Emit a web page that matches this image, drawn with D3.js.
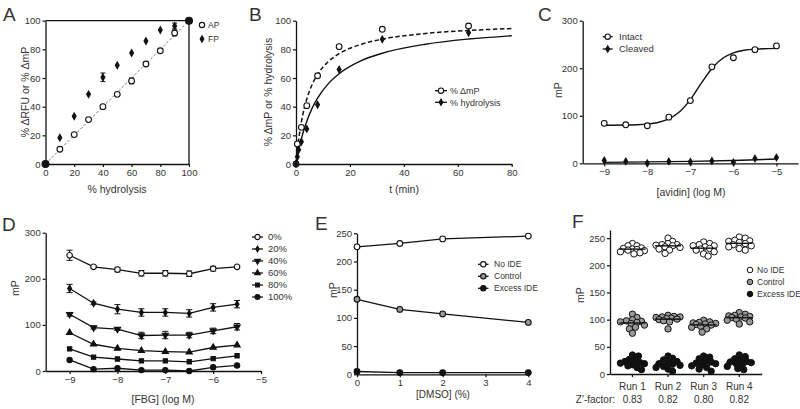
<!DOCTYPE html>
<html><head><meta charset="utf-8">
<script src="https://cdn.jsdelivr.net/npm/d3@7"></script>
<style>
body{margin:0;background:#fff}
svg{display:block}
text{font-family:"Liberation Sans",Arial,Helvetica,sans-serif;fill:#333}
</style>
</head><body>
<svg width="800" height="409"></svg>
<script>
// ---------------- DATA ----------------
// Panel A
const aX      = [10,20,30,40,50,60,70,80,90];
const aAP     = [10.3,20.5,31,40,48.6,58,69.8,79,91.4];
const aAPerr  = [0,0,0,0,0,2,0,0,2];
const aFP     = [18.4,33.3,48.6,60.5,68.9,77.5,85.8,93.5,96.3];
const aFPerr  = [0,0,0,3,0,0,0,0,2];
const aEndX   = [0,100];
const aEndY   = [0,100];
const aTicks  = [0,20,40,60,80,100];

// Panel B
const bT      = [0,0.5,2,4,8,16,32,64];
const bMP     = [0,14,25.6,40.7,61.6,81.9,94,96.3];
const bHydT   = [0,0.5,1,2,4,8,16,32,64];
const bHyd    = [0,5,10,15.5,24.5,41.4,66,87,91.6];
const bFitT   = [0,0.5,1,2,3,4,6,8,12,16,24,32,48,64,80];
const bFitMP  = [0,9.4,17.2,29.4,38.4,45.4,55.6,62.5,71.5,77,83.4,87.1,91.1,93.2,94.5];
const bFitHyd = [0,5.1,9.6,17.5,24.2,29.9,39,46,56.1,63,71.9,77.3,83.6,87.2,89.5];
const bXTicks = [0,20,40,60,80];
const bYTicks = [0,20,40,60,80,100];

// Panel C
const cX        = [-9,-8.5,-8,-7.5,-7,-6.5,-6,-5.5,-5];
const cIntact   = [84,81,79,97,132,203,222,239,247];
const cCleaved  = [6,4,0,4,3,5,2,10,12];
const cFitX     = [-9,-8.5,-8.25,-8,-7.75,-7.5,-7.25,-7,-6.75,-6.5,-6.25,-6,-5.75,-5.5,-5];
const cFitIntact= [80.1,80.5,81.1,82.5,85.9,93.3,108.3,134,168,199.6,220.9,232.4,237.8,240.2,241.7];
const cFitClvX  = [-9,-8,-7,-6,-5];
const cFitClv   = [2,3,4,6,9];
const cXTicks   = [-9,-8,-7,-6,-5];
const cYTicks   = [0,100,200,300];

// Panel D
const dX = [-9,-8.5,-8,-7.5,-7,-6.5,-6,-5.5];
const dLabels = ["0%","20%","40%","60%","80%","100%"];
const d0   = [251,226,220,212,212,211,222,226];
const d20  = [179,147,134,127,127,125,138,145];
const d40  = [123,94,91,77,78,78,87,96];
const d60  = [83,58,49,44,42,41,51,56];
const d80  = [48,30,26,22,22,20,27,33];
const d100 = [24,4,6,2,2,0,8,12];
const d0err   = [11,3,5,6,6,6,5,3];
const d20err  = [9,3,10,8,8,8,8,8];
const d40err  = [4,3,3,7,8,6,6,7];
const d60err  = [2,2,2,2,2,2,2,2];
const d80err  = [2,2,2,2,2,2,2,2];
const d100err = [2,2,2,2,2,2,2,2];
const dXTicks = [-9,-8,-7,-6,-5];
const dYTicks = [0,100,200,300];

// Panel E
const eX        = [0,1,2,4];
const eNoIDE    = [226,232,240,245];
const eControl  = [133,115,107,92];
const eExcess   = [5,3,3,3];
const eLabels   = ["No IDE","Control","Excess IDE"];
const eXTicks   = [0,1,2,3,4];
const eYTicks   = [0,50,100,150,200,250];

// Panel F
const fRuns  = ["Run 1","Run 2","Run 3","Run 4"];
const fZ     = ["0.83","0.82","0.80","0.82"];
const fNoIDE = [
  [240,236,232,230,229,228,227,225,223,221,236,231],
  [250,244,240,238,237,236,234,233,230,228,222,238],
  [243,240,238,236,234,231,230,228,225,221,217,236],
  [252,250,246,244,242,240,238,236,234,231,228,245]];
const fControl = [
  [110,104,100,98,97,96,95,93,90,86,83,75],
  [108,106,105,104,103,102,101,100,98,96,83,105],
  [99,96,94,93,92,91,90,88,86,83,77,95],
  [113,110,108,107,106,105,104,103,101,99,96,92]];
const fExcess = [
  [35,33,27,25,23,21,20,19,17,15,12,8],
  [33,29,26,23,21,19,18,16,14,12,9,5],
  [33,31,28,24,22,20,19,17,15,12,9,5],
  [35,32,28,25,23,22,21,19,17,14,10,8]];
const fYTicks = [0,50,100,150,200,250];

// ---------------- HELPERS ----------------
const svg = d3.select("svg");
const TICKF = "9.5px";
const fmtInt = d3.format("d");

function styleAxis(g){
  g.select(".domain").attr("stroke","#111").attr("stroke-width",1.3);
  g.selectAll(".tick line").attr("stroke","#111").attr("stroke-width",1.2);
  g.selectAll(".tick text").attr("font-size",TICKF).attr("fill","#444")
   .attr("font-family",'"Liberation Sans",Arial,sans-serif');
}
function xAxis(g, sc, y, ticks, fmt){
  const a = d3.axisBottom(sc).tickValues(ticks).tickSize(3).tickPadding(2).tickSizeOuter(0);
  if (fmt) a.tickFormat(fmt);
  const gg = g.append("g").attr("transform",`translate(0,${y})`).call(a);
  styleAxis(gg); return gg;
}
function yAxis(g, sc, x, ticks){
  const gg = g.append("g").attr("transform",`translate(${x},0)`)
    .call(d3.axisLeft(sc).tickValues(ticks).tickFormat(fmtInt).tickSize(3).tickPadding(2).tickSizeOuter(0));
  styleAxis(gg); return gg;
}
function title(g, txt, x, y, rot, size){
  const t = g.append("text").attr("x",x).attr("y",y).attr("text-anchor","middle")
    .attr("font-size",size||"10.5px").attr("fill","#333").text(txt);
  if (rot) t.attr("transform",`rotate(-90,${x},${y})`).attr("dy","0.35em");
  return t;
}
function letter(txt,x,y){
  svg.append("text").attr("x",x).attr("y",y).attr("font-size","19px").attr("fill","#111").text(txt);
}
const SYM = {
  circle: d3.symbolCircle, diamond: d3.symbolDiamond, triUp: d3.symbolTriangle,
  triDown: d3.symbolTriangle, square: d3.symbolSquare
};
function mark(g, type, x, y, fill, size, stroke){
  const p = g.append("path").attr("d", d3.symbol().type(SYM[type]).size(size)())
    .attr("fill", fill).attr("stroke", stroke||"#111").attr("stroke-width",1.1);
  p.attr("transform", `translate(${x},${y})` + (type==="triDown" ? " rotate(180)" : ""));
  return p;
}
function errbar(g, x, y0, y1, w){
  g.append("line").attr("x1",x).attr("x2",x).attr("y1",y0).attr("y2",y1).attr("stroke","#111").attr("stroke-width",1);
  g.append("line").attr("x1",x-w).attr("x2",x+w).attr("y1",y0).attr("y2",y0).attr("stroke","#111").attr("stroke-width",1);
  g.append("line").attr("x1",x-w).attr("x2",x+w).attr("y1",y1).attr("y2",y1).attr("stroke","#111").attr("stroke-width",1);
}

// ---------------- PANEL A ----------------
{
  const g = svg.append("g");
  const x = d3.scaleLinear().domain([0,100]).range([45.5,189]);
  const y = d3.scaleLinear().domain([0,100]).range([164,20.7]);
  g.append("line").attr("x1",x(0)).attr("y1",y(0)).attr("x2",x(100)).attr("y2",y(100))
    .attr("stroke","#777").attr("stroke-width",1).attr("stroke-dasharray","2.5,2");
  g.append("line").attr("x1",x(0)).attr("x2",x(100)).attr("y1",y(100)).attr("y2",y(100)).attr("stroke","#111").attr("stroke-width",1.3);
  g.append("line").attr("x1",x(100)).attr("x2",x(100)).attr("y1",y(0)).attr("y2",y(100)).attr("stroke","#111").attr("stroke-width",1.3);
  xAxis(g, x, 164, aTicks, fmtInt);
  yAxis(g, y, 45.5, aTicks);
  aX.forEach((v,i)=>{
    if (aAPerr[i]) errbar(g, x(v), y(aAP[i]-aAPerr[i]), y(aAP[i]+aAPerr[i]), 2.5);
    mark(g,"circle",x(v),y(aAP[i]),"#fff",26);
  });
  aX.forEach((v,i)=>{
    if (aFPerr[i]) errbar(g, x(v), y(aFP[i]-aFPerr[i]), y(aFP[i]+aFPerr[i]), 2.5);
    mark(g,"diamond",x(v),y(aFP[i]),"#111",13);
  });
  aEndX.forEach((v,i)=> mark(g,"circle",x(v),y(aEndY[i]),"#111",38));
  mark(g,"circle",202,25,"#fff",22);
  g.append("text").attr("x",208).attr("y",28).attr("font-size","8.5px").text("AP");
  mark(g,"diamond",202,39,"#111",12);
  g.append("text").attr("x",208).attr("y",42).attr("font-size","8.5px").text("FP");
  title(g,"% hydrolysis",117,193);
  title(g,"% \u0394RFU or % \u0394mP",25,92,true);
  letter("A",3,21);
}

// ---------------- PANEL B ----------------
{
  const g = svg.append("g");
  const x = d3.scaleLinear().domain([0,80]).range([296,511.7]);
  const y = d3.scaleLinear().domain([0,100]).range([164,20.7]);
  const line = d3.line().x(d=>x(d[0])).y(d=>y(d[1])).curve(d3.curveMonotoneX);
  g.append("path").attr("d", line(bFitT.map((t,i)=>[t,bFitMP[i]])))
    .attr("fill","none").attr("stroke","#111").attr("stroke-width",1.5).attr("stroke-dasharray","4.5,2.5");
  g.append("path").attr("d", line(bFitT.map((t,i)=>[t,bFitHyd[i]])))
    .attr("fill","none").attr("stroke","#111").attr("stroke-width",1.4);
  xAxis(g, x, 164, bXTicks, fmtInt);
  yAxis(g, y, 296, bYTicks);
  bT.forEach((t,i)=> mark(g,"circle",x(t),y(bMP[i]),"#fff",26));
  bHydT.forEach((t,i)=> mark(g,"diamond",x(t),y(bHyd[i]),"#111",13));
  [[90.7,"circle","#fff","% \u0394mP"],[102.3,"diamond","#111","% hydrolysis"]].forEach(([ly,tp,fc,lab])=>{
    g.append("line").attr("x1",435).attr("x2",447).attr("y1",ly).attr("y2",ly).attr("stroke","#111").attr("stroke-width",1.3);
    mark(g,tp,441,ly,fc,tp==="circle"?22:12);
    g.append("text").attr("x",450).attr("y",ly+3.3).attr("font-size","9px").text(lab);
  });
  title(g,"t (min)",404,193);
  title(g,"% \u0394mP or % hydrolysis",268,92,true);
  letter("B",249,21);
}

// ---------------- PANEL C ----------------
{
  const g = svg.append("g");
  const x = d3.scaleLinear().domain([-9.5,-4.5]).range([582.7,798]);
  const y = d3.scaleLinear().domain([0,300]).range([163.3,20.7]);
  const line = d3.line().x(d=>x(d[0])).y(d=>y(d[1])).curve(d3.curveMonotoneX);
  g.append("path").attr("d", line(cFitX.map((v,i)=>[v,cFitIntact[i]])))
    .attr("fill","none").attr("stroke","#111").attr("stroke-width",1.4);
  g.append("path").attr("d", line(cFitClvX.map((v,i)=>[v,cFitClv[i]])))
    .attr("fill","none").attr("stroke","#111").attr("stroke-width",1.4);
  xAxis(g, x, 163.3, cXTicks, fmtInt);
  yAxis(g, y, 582.7, cYTicks);
  cX.forEach((v,i)=> mark(g,"circle",x(v),y(cIntact[i]),"#fff",26));
  cX.forEach((v,i)=> mark(g,"diamond",x(v),y(cCleaved[i]),"#111",13));
  [[36.7,"circle","#fff","Intact"],[49,"diamond","#111","Cleaved"]].forEach(([ly,tp,fc,lab])=>{
    g.append("line").attr("x1",602.7).attr("x2",612.7).attr("y1",ly).attr("y2",ly).attr("stroke","#111").attr("stroke-width",1.3);
    mark(g,tp,607.7,ly,fc,tp==="circle"?22:12);
    g.append("text").attr("x",619).attr("y",ly+3.4).attr("font-size","9.5px").text(lab);
  });
  title(g,"[avidin] (log M)",691,196);
  title(g,"mP",558,90,true);
  letter("C",538,21);
}

// ---------------- PANEL D ----------------
{
  const g = svg.append("g");
  const x = d3.scaleLinear().domain([-9.5,-5]).range([45.7,261]);
  const y = d3.scaleLinear().domain([0,300]).range([371,232.7]);
  const series = [d0,d20,d40,d60,d80,d100];
  const errs = [d0err,d20err,d40err,d60err,d80err,d100err];
  const types = ["circle","diamond","triDown","triUp","square","circle"];
  const fills = ["#fff","#111","#111","#111","#111","#111"];
  const sizes = [24,13,17,17,18,22];
  const line = d3.line().x(d=>x(d[0])).y(d=>y(d[1]));
  series.forEach((s,k)=>{
    g.append("path").attr("d", line(dX.map((v,i)=>[v,s[i]])))
      .attr("fill","none").attr("stroke","#111").attr("stroke-width",1.3);
    dX.forEach((v,i)=>{
      if (errs[k][i]>2) errbar(g, x(v), y(s[i]-errs[k][i]), y(s[i]+errs[k][i]), 3);
    });
  });
  xAxis(g, x, 371, dXTicks, fmtInt);
  yAxis(g, y, 45.7, dYTicks);
  series.forEach((s,k)=> dX.forEach((v,i)=> mark(g,types[k],x(v),y(s[i]),fills[k],sizes[k])));
  dLabels.forEach((lab,k)=>{
    const ly = 237 + k*12;
    g.append("line").attr("x1",252).attr("x2",263).attr("y1",ly).attr("y2",ly).attr("stroke","#111").attr("stroke-width",1.3);
    mark(g,types[k],257.5,ly,fills[k],sizes[k]-3);
    g.append("text").attr("x",268).attr("y",ly+3.4).attr("font-size","9.5px").text(lab);
  });
  title(g,"[FBG] (log M)",163,403);
  title(g,"mP",15,288,true);
  letter("D",2,231);
}

// ---------------- PANEL E ----------------
{
  const g = svg.append("g");
  const x = d3.scaleLinear().domain([0,4]).range([357,528.3]);
  const y = d3.scaleLinear().domain([0,250]).range([374.3,233.3]);
  const line = d3.line().x(d=>x(d[0])).y(d=>y(d[1]));
  const series = [eNoIDE,eControl,eExcess];
  const fills = ["#fff","#999","#111"];
  series.forEach((s,k)=>{
    g.append("path").attr("d", line(eX.map((v,i)=>[v,s[i]])))
      .attr("fill","none").attr("stroke","#111").attr("stroke-width",1.3);
  });
  xAxis(g, x, 374.3, eXTicks, fmtInt);
  yAxis(g, y, 357, eYTicks);
  series.forEach((s,k)=> eX.forEach((v,i)=> mark(g,"circle",x(v),y(s[i]),fills[k],26)));
  eLabels.forEach((lab,k)=>{
    const ly = 264.3 + k*12;
    g.append("line").attr("x1",478).attr("x2",488.5).attr("y1",ly).attr("y2",ly).attr("stroke","#111").attr("stroke-width",1.3);
    mark(g,"circle",483.3,ly,fills[k],22);
    g.append("text").attr("x",494).attr("y",ly+3).attr("font-size","8.5px").text(lab);
  });
  title(g,"[DMSO] (%)",443,398,false,"10px");
  title(g,"mP",333,290,true);
  letter("E",315,230);
}

// ---------------- PANEL F ----------------
{
  const g = svg.append("g");
  const x = d3.scaleBand().domain(fRuns).range([610,761.7]).paddingInner(0).paddingOuter(0.13);
  const y = d3.scaleLinear().domain([0,265]).range([374,230]);
  const xa = xAxis(g, x, 374, fRuns);
  xa.selectAll(".tick text").attr("font-size","10px").attr("dy","1.1em");
  yAxis(g, y, 610, fYTicks);
  const R = 3.2;
  const cands = [0];
  for (let k=1;k<=8;k++){ cands.push(k*1.5, -k*1.5); }
  function swarm(vals){
    const pts = vals.map(v=>({v, py:y(v)})).sort((a,b)=>d3.descending(a.v,b.v));
    const placed = [];
    const minD = 2*R*0.78;
    pts.forEach(p=>{
      let best = 0, bestD = -1;
      for (const off of cands){
        const d = placed.length ? d3.min(placed, q=>Math.hypot(q.off-off, q.py-p.py)) : Infinity;
        if (d >= minD){ best = off; break; }
        if (d > bestD){ bestD = d; best = off; }
      }
      p.off = best; placed.push(p);
    });
    return placed;
  }
  const groups = [[fNoIDE,"#fff"],[fControl,"#999"],[fExcess,"#111"]];
  groups.forEach(([data,fc])=>{
    data.forEach((vals,i)=>{
      const cx = x(fRuns[i]) + x.bandwidth()/2;
      swarm(vals).forEach(p=>{
        g.append("circle").attr("cx",cx+p.off).attr("cy",p.py).attr("r",R)
          .attr("fill",fc).attr("stroke","#111").attr("stroke-width",1);
      });
      const m = d3.mean(vals);
      g.append("line").attr("x1",cx-13).attr("x2",cx+13).attr("y1",y(m)).attr("y2",y(m))
        .attr("stroke","#111").attr("stroke-width",1.4);
    });
  });
  g.append("text").attr("x",615).attr("y",403).attr("text-anchor","end").attr("font-size","10px").text("Z'-factor:");
  fRuns.forEach((r,i)=>{
    g.append("text").attr("x",x(r)+x.bandwidth()/2).attr("y",403).attr("text-anchor","middle").attr("font-size","10px").text(fZ[i]);
  });
  eLabels.forEach((lab,k)=>{
    const ly = 270 + k*12;
    g.append("circle").attr("cx",750).attr("cy",ly).attr("r",2.8).attr("fill",groups[k][1]).attr("stroke","#111").attr("stroke-width",1);
    g.append("text").attr("x",757).attr("y",ly+3).attr("font-size","8.5px").text(lab);
  });
  title(g,"mP",580,295,true);
  letter("F",572,228);
}
</script>
</body></html>
